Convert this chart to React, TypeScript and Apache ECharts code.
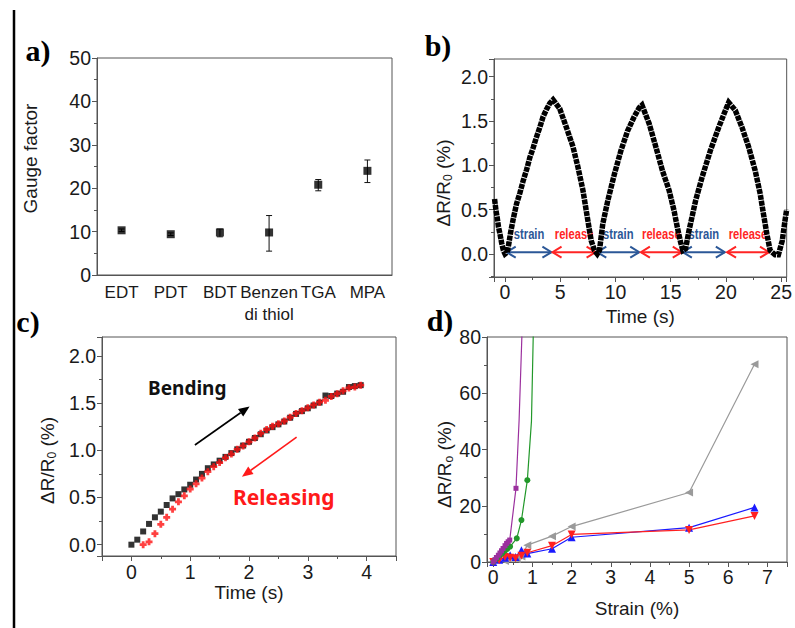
import React, { useEffect, useRef } from 'react';
import * as echarts from 'echarts';

// ---------- panel a ----------
const gfCategories = ['EDT', 'PDT', 'BDT', 'Benzen\ndi thiol', 'TGA', 'MPA'];
const gfValues = [10.3, 9.4, 9.8, 9.8, 20.8, 24.0];
const gfErrLow = [10.0, 9.1, 8.8, 5.5, 19.4, 21.3];
const gfErrHigh = [10.6, 9.7, 10.6, 13.7, 22.0, 26.5];

// ---------- panel b ----------
const cycleTime = [
  -0.95, -0.82, -0.7, -0.6, -0.45, -0.3, -0.15, 0.0, 0.2, 0.35, 0.5, 0.75, 1.05, 1.35, 1.65, 1.95, 2.25, 2.55,
  2.85, 3.15, 3.45, 3.75, 4.05, 4.35, 4.95, 5.55, 6.15, 6.6, 7.05, 7.35, 7.6, 7.8, 8.1, 8.35, 8.55, 8.85,
  9.3, 9.9, 10.5, 11.1, 11.7, 12.15, 12.4, 13.05, 13.65, 14.25, 14.85, 15.3, 15.6, 15.9, 16.1, 16.35,
  16.65, 17.25, 17.85, 18.6, 19.35, 19.95, 20.25, 20.85, 21.45, 22.05, 22.65, 23.1, 23.4, 23.7, 24.0,
  24.45, 24.75, 25.1, 25.35, 25.5,
];
const cycleValue = [
  0.62, 0.49, 0.4, 0.31, 0.22, 0.12, 0.04, 0.0, 0.02, 0.12, 0.24, 0.4, 0.57, 0.69, 0.83, 0.95, 1.09, 1.2,
  1.32, 1.43, 1.55, 1.63, 1.7, 1.74, 1.64, 1.43, 1.21, 0.98, 0.72, 0.49, 0.3, 0.15, 0.04, 0.0, 0.04, 0.34,
  0.6, 0.9, 1.17, 1.39, 1.55, 1.65, 1.68, 1.47, 1.21, 0.94, 0.72, 0.49, 0.3, 0.13, 0.04, 0.06,
  0.26, 0.6, 0.87, 1.17, 1.43, 1.62, 1.71, 1.62, 1.43, 1.21, 0.94, 0.68, 0.45, 0.23, 0.04,
  -0.01, -0.01, 0.15, 0.38, 0.5,
];
const phaseStart = [0.15, 4.3, 8.35, 12.3, 16.1, 20.1];
const phaseEnd = [4.2, 8.2, 12.15, 16.0, 19.9, 23.9];
const phaseLabels = ['strain', 'release', 'strain', 'release', 'strain', 'release'];
const phaseArrowLevel = 0.02;
const phaseLabelLevel = 0.22;

// ---------- panel c ----------
const bendTime = [
  0, 0.1, 0.2, 0.3, 0.4, 0.5, 0.6, 0.7, 0.8, 0.9, 1.0, 1.1, 1.2, 1.3, 1.4, 1.5, 1.6, 1.7, 1.8, 1.9,
  2.0, 2.1, 2.2, 2.3, 2.4, 2.5, 2.6, 2.7, 2.8, 2.9, 3.0, 3.1, 3.2, 3.3, 3.4, 3.5, 3.6, 3.7, 3.8, 3.9,
];
const bendValue = [
  0, 0.053, 0.14, 0.22, 0.29, 0.35, 0.42, 0.49, 0.535, 0.585, 0.635, 0.69, 0.75, 0.81, 0.85, 0.89, 0.93, 0.97, 1.01, 1.05,
  1.09, 1.13, 1.17, 1.21, 1.245, 1.275, 1.305, 1.345, 1.385, 1.415, 1.445, 1.475, 1.505, 1.58, 1.575, 1.6, 1.62, 1.67, 1.68, 1.69,
];
const releaseTime = [
  0.2, 0.3, 0.4, 0.5, 0.6, 0.7, 0.8, 0.9, 1.0, 1.1, 1.2, 1.3, 1.4, 1.5, 1.6, 1.7, 1.8, 1.9,
  2.0, 2.1, 2.2, 2.3, 2.4, 2.5, 2.6, 2.7, 2.8, 2.9, 3.0, 3.1, 3.2, 3.3, 3.4, 3.5, 3.6, 3.7, 3.8, 3.9,
];
const releaseValue = [
  0, 0.03, 0.117, 0.216, 0.29, 0.376, 0.454, 0.518, 0.589, 0.645, 0.706, 0.773, 0.826, 0.87, 0.92, 0.96, 1.01, 1.046,
  1.09, 1.13, 1.18, 1.22, 1.255, 1.28, 1.31, 1.35, 1.39, 1.42, 1.45, 1.48, 1.51, 1.53, 1.57, 1.6, 1.63, 1.66, 1.67, 1.69,
];
const noteArrowX1 = [1.08, 2.81];
const noteArrowY1 = [1.056, 1.14];
const noteArrowX2 = [2.01, 1.88];
const noteArrowY2 = [1.465, 0.72];
const noteTexts = ['Bending', 'Releasing'];
const noteX = [0.95, 2.59];
const noteY = [1.66, 0.5];

// ---------- panel d ----------
const purpleStrain = [0, 0.04, 0.08, 0.13, 0.17, 0.21, 0.25, 0.3, 0.34, 0.38, 0.42, 0.58];
const purpleResp = [0, 0.8, 1.6, 2.4, 3.2, 4.0, 4.8, 5.8, 6.6, 7.2, 7.8, 26.2];
const purpleTailStrain = [0.66, 0.73, 0.76];
const purpleTailResp = [50.5, 80, 95];
const greenStrain = [0, 0.05, 0.1, 0.17, 0.23, 0.3, 0.36, 0.43, 0.6, 0.72, 0.87];
const greenResp = [0, 0.8, 1.4, 2.4, 3.1, 4.0, 4.7, 5.5, 8.4, 14.9, 29.1];
const greenTailStrain = [0.975, 1.02, 1.05];
const greenTailResp = [50, 80, 100];
const grayStrain = [0.3, 0.6, 0.72, 0.87, 1.5, 2.0, 5.0, 6.67];
const grayResp = [0.4, 1.0, 2.0, 6.0, 9.2, 12.6, 24.7, 70.3];
const blueStrain = [0, 0.15, 0.3, 0.43, 0.57, 0.72, 0.87, 1.5, 2.0, 5.0, 6.67];
const blueResp = [0, 0.8, 1.5, 2.4, 1.8, 4.2, 3.0, 4.7, 8.8, 12.2, 19.4];
const redStrain = [0, 0.15, 0.3, 0.43, 0.57, 0.72, 0.87, 1.5, 2.0, 5.0, 6.67];
const redResp = [0, 0.6, 1.8, 1.5, 1.3, 2.2, 3.3, 5.8, 9.8, 11.4, 16.4];

const FONT = '"Liberation Sans", Arial, sans-serif';
const AX = '#555';
const TXT = '#1a1a1a';
const BLUE = '#2b5797';
const RED = '#ff2424';
const TICK_FS = 19.5;

const zip = (a: number[], b: number[]) => a.map((v, i) => [v, b[i]]);
const oneDecimal = (v: number) => v.toFixed(1);

function valueAxis(gridIndex: number, min: number, max: number, extra: any = {}) {
  return {
    type: 'value',
    gridIndex,
    min,
    max,
    splitLine: { show: false },
    axisLine: { show: true, onZero: false, lineStyle: { color: AX, width: 1 } },
    axisTick: { show: true, inside: false, length: 5, lineStyle: { color: AX } },
    minorTick: { show: true, splitNumber: 2, length: 3, lineStyle: { color: AX } },
    axisLabel: { fontFamily: FONT, fontSize: TICK_FS, color: TXT, margin: 6 },
    nameLocation: 'middle',
    nameTextStyle: { fontFamily: FONT, fontSize: 19, color: TXT },
    ...extra,
  };
}

const ratioName = (sub: string) => ({
  name: `ΔR/R{sub|${sub}} (%)`,
});
const ratioNameStyle = (pad: number[]) => ({
  fontFamily: FONT,
  fontSize: 19,
  color: TXT,
  lineHeight: 22,
  padding: pad,
  rich: { sub: { fontFamily: FONT, fontSize: 12, lineHeight: 10, verticalAlign: 'bottom', color: TXT } },
});

export default function App() {
  const ref = useRef<HTMLDivElement>(null);
  useEffect(() => {
    if (!ref.current) return;
    const chart = echarts.init(ref.current, undefined, { renderer: 'svg' });
    const option: any = {
      animation: false,
      backgroundColor: '#fff',
      grid: [
        { left: 97, top: 58, width: 295, height: 217, show: true, borderColor: AX, borderWidth: 1, backgroundColor: 'transparent' },
        { left: 494, top: 59, width: 294, height: 218, show: true, borderColor: AX, borderWidth: 1, backgroundColor: 'transparent' },
        { left: 102, top: 337, width: 294, height: 219, show: true, borderColor: AX, borderWidth: 1, backgroundColor: 'transparent' },
        { left: 487, top: 337, width: 300, height: 225, show: true, borderColor: AX, borderWidth: 1, backgroundColor: 'transparent' },
      ],
      xAxis: [
        {
          type: 'category',
          gridIndex: 0,
          data: gfCategories,
          boundaryGap: true,
          axisLine: { lineStyle: { color: AX } },
          axisTick: { alignWithLabel: true, length: 5, lineStyle: { color: AX } },
          axisLabel: { fontFamily: FONT, fontSize: 17, color: TXT, interval: 0, margin: 6, lineHeight: 22 },
          splitLine: { show: false },
        },
        valueAxis(1, -1, 25.5, {
          splitNumber: 5,
          name: 'Time (s)',
          nameGap: 30,
          axisLabel: { fontFamily: FONT, fontSize: TICK_FS, color: TXT, margin: 5, showMinLabel: false, showMaxLabel: false },
        }),
        valueAxis(2, -0.5, 4.5, {
          splitNumber: 5,
          name: 'Time (s)',
          nameGap: 27,
          axisLabel: { fontFamily: FONT, fontSize: TICK_FS, color: TXT, margin: 6, showMinLabel: false, showMaxLabel: false },
        }),
        valueAxis(3, -0.16, 7.5, {
          splitNumber: 7,
          name: 'Strain (%)',
          nameGap: 37,
          axisLabel: { fontFamily: FONT, fontSize: TICK_FS, color: TXT, margin: 5, showMinLabel: false, showMaxLabel: false },
        }),
      ],
      yAxis: [
        valueAxis(0, 0, 50, {
          interval: 10,
          name: 'Gauge factor',
          nameGap: 57,
          nameTextStyle: { fontFamily: FONT, fontSize: 19, color: TXT, padding: [0, 0, 0, 16] },
        }),
        valueAxis(1, -0.26, 2.2, {
          splitNumber: 5,
          ...ratioName('0'),
          nameGap: 40,
          nameTextStyle: ratioNameStyle([0, 30, 0, 0]),
          axisLabel: { fontFamily: FONT, fontSize: TICK_FS, color: TXT, margin: 6, showMinLabel: false, showMaxLabel: false, formatter: oneDecimal },
        }),
        valueAxis(2, -0.12, 2.2, {
          splitNumber: 5,
          ...ratioName('0'),
          nameGap: 44,
          nameTextStyle: ratioNameStyle([0, 28, 0, 0]),
          axisLabel: { fontFamily: FONT, fontSize: TICK_FS, color: TXT, margin: 6, showMinLabel: false, showMaxLabel: false, formatter: oneDecimal },
        }),
        valueAxis(3, 0, 80, {
          interval: 20,
          ...ratioName('o'),
          nameGap: 30,
          nameTextStyle: ratioNameStyle([0, 30, 0, 0]),
        }),
      ],
      series: [
        // panel a error bars
        {
          type: 'custom',
          xAxisIndex: 0,
          yAxisIndex: 0,
          data: gfCategories.map((_, i) => [i, gfErrLow[i], gfErrHigh[i]]),
          renderItem: (params: any, api: any) => {
            const lo = api.coord([api.value(0), api.value(1)]);
            const hi = api.coord([api.value(0), api.value(2)]);
            const w = 3;
            const st = { stroke: '#111', lineWidth: 1 };
            return {
              type: 'group',
              children: [
                { type: 'line', shape: { x1: lo[0], y1: lo[1], x2: hi[0], y2: hi[1] }, style: st },
                { type: 'line', shape: { x1: lo[0] - w, y1: lo[1], x2: lo[0] + w, y2: lo[1] }, style: st },
                { type: 'line', shape: { x1: hi[0] - w, y1: hi[1], x2: hi[0] + w, y2: hi[1] }, style: st },
              ],
            };
          },
        },
        {
          type: 'scatter',
          xAxisIndex: 0,
          yAxisIndex: 0,
          symbol: 'rect',
          symbolSize: 8,
          itemStyle: { color: '#000' },
          data: gfValues.map((v, i) => [i, v]),
        },
        // panel b
        {
          type: 'line',
          xAxisIndex: 1,
          yAxisIndex: 1,
          showSymbol: false,
          symbol: 'none',
          data: zip(cycleTime, cycleValue),
          lineStyle: { color: '#000', width: 5.5, type: [5, 0.9], cap: 'butt', join: 'miter' },
        },
        {
          type: 'custom',
          xAxisIndex: 1,
          yAxisIndex: 1,
          data: phaseStart.map((s, i) => [s, phaseEnd[i], phaseArrowLevel, phaseLabelLevel]),
          renderItem: (params: any, api: any) => {
            const i = params.dataIndex;
            const p1 = api.coord([api.value(0), api.value(2)]);
            const p2 = api.coord([api.value(1), api.value(2)]);
            const pt = api.coord([(api.value(0) + api.value(1)) / 2, api.value(3)]);
            const col = i % 2 === 0 ? BLUE : RED;
            const st = { stroke: col, lineWidth: 2, fill: 'none' };
            const hx = 9, hy = 5.5;
            return {
              type: 'group',
              children: [
                { type: 'line', shape: { x1: p1[0], y1: p1[1], x2: p2[0], y2: p2[1] }, style: st },
                { type: 'polyline', shape: { points: [[p1[0] + hx, p1[1] - hy], [p1[0], p1[1]], [p1[0] + hx, p1[1] + hy]] }, style: st },
                { type: 'polyline', shape: { points: [[p2[0] - hx, p2[1] - hy], [p2[0], p2[1]], [p2[0] - hx, p2[1] + hy]] }, style: st },
                {
                  type: 'text',
                  x: pt[0],
                  y: pt[1],
                  scaleX: 0.8,
                  style: {
                    text: phaseLabels[i],
                    fill: col,
                    fontSize: 14,
                    fontWeight: 'bold',
                    fontFamily: FONT,
                    align: 'center',
                    verticalAlign: 'middle',
                  },
                },
              ],
            };
          },
        },
        // panel c
        {
          type: 'scatter',
          xAxisIndex: 2,
          yAxisIndex: 2,
          symbol: 'rect',
          symbolSize: 6,
          itemStyle: { color: '#000' },
          data: zip(bendTime, bendValue),
        },
        {
          type: 'scatter',
          xAxisIndex: 2,
          yAxisIndex: 2,
          symbol: 'path://M3,0L7,0L7,3L10,3L10,7L7,7L7,10L3,10L3,7L0,7L0,3L3,3Z',
          symbolSize: 7,
          itemStyle: { color: '#ff1010' },
          data: zip(releaseTime, releaseValue),
        },
        {
          type: 'custom',
          xAxisIndex: 2,
          yAxisIndex: 2,
          data: noteArrowX1.map((x, i) => [x, noteArrowY1[i], noteArrowX2[i], noteArrowY2[i]]),
          renderItem: (params: any, api: any) => {
            const i = params.dataIndex;
            const p1 = api.coord([api.value(0), api.value(1)]);
            const p2 = api.coord([api.value(2), api.value(3)]);
            const col = i === 0 ? '#000' : '#ff1a1a';
            const dx = p2[0] - p1[0], dy = p2[1] - p1[1];
            const L = Math.sqrt(dx * dx + dy * dy);
            const ux = dx / L, uy = dy / L;
            const nx = -uy, ny = ux;
            const hl = 11, hw = 4.5;
            const bx = p2[0] - ux * hl, by = p2[1] - uy * hl;
            return {
              type: 'group',
              children: [
                { type: 'line', shape: { x1: p1[0], y1: p1[1], x2: bx, y2: by }, style: { stroke: col, lineWidth: 1.6 } },
                {
                  type: 'polygon',
                  shape: { points: [[p2[0], p2[1]], [bx + nx * hw, by + ny * hw], [bx - nx * hw, by - ny * hw]] },
                  style: { fill: col },
                },
              ],
            };
          },
        },
        {
          type: 'custom',
          xAxisIndex: 2,
          yAxisIndex: 2,
          data: noteX.map((x, i) => [x, noteY[i]]),
          renderItem: (params: any, api: any) => {
            const i = params.dataIndex;
            const p = api.coord([api.value(0), api.value(1)]);
            return {
              type: 'text',
              x: p[0],
              y: p[1],
              style: {
                text: noteTexts[i],
                fill: i === 0 ? '#111' : '#ff1a1a',
                fontSize: i === 0 ? 19 : 21,
                fontWeight: 'bold',
                fontFamily: '"Noto Sans", "Open Sans", sans-serif',
                align: 'center',
                verticalAlign: 'middle',
              },
            };
          },
        },
        // panel d
        {
          type: 'line',
          xAxisIndex: 3,
          yAxisIndex: 3,
          symbol: 'triangle',
          symbolRotate: 90,
          symbolSize: 8,
          color: '#9a9a9a',
          lineStyle: { width: 1.2 },
          data: zip(grayStrain, grayResp),
        },
        {
          type: 'line',
          xAxisIndex: 3,
          yAxisIndex: 3,
          symbol: 'triangle',
          symbolSize: 8,
          color: '#1a1aff',
          lineStyle: { width: 1.2 },
          data: zip(blueStrain, blueResp),
        },
        {
          type: 'line',
          xAxisIndex: 3,
          yAxisIndex: 3,
          symbol: 'triangle',
          symbolRotate: 180,
          symbolSize: 8,
          color: '#ff2020',
          lineStyle: { width: 1.2 },
          data: zip(redStrain, redResp),
        },
        {
          type: 'line',
          xAxisIndex: 3,
          yAxisIndex: 3,
          symbol: 'circle',
          symbolSize: 6,
          color: '#22982a',
          lineStyle: { width: 1.2 },
          data: [
            ...zip(greenStrain, greenResp),
            ...zip(greenTailStrain, greenTailResp).map((v) => ({ value: v, symbol: 'none' })),
          ],
        },
        {
          type: 'line',
          xAxisIndex: 3,
          yAxisIndex: 3,
          symbol: 'rect',
          symbolSize: 5,
          color: '#9b309e',
          lineStyle: { width: 1.2 },
          data: [
            ...zip(purpleStrain, purpleResp),
            ...zip(purpleTailStrain, purpleTailResp).map((v) => ({ value: v, symbol: 'none' })),
          ],
        },
      ],
      graphic: [
        { type: 'line', shape: { x1: 14, y1: 10, x2: 14, y2: 628 }, style: { stroke: '#000', lineWidth: 2.5 } },
        { type: 'text', x: 38, y: 50, style: { text: 'a)', font: 'bold 30px "Liberation Serif", serif', fill: '#000', align: 'center', verticalAlign: 'middle' } },
        { type: 'text', x: 438, y: 45, style: { text: 'b)', font: 'bold 30px "Liberation Serif", serif', fill: '#000', align: 'center', verticalAlign: 'middle' } },
        { type: 'text', x: 28, y: 321, style: { text: 'c)', font: 'bold 30px "Liberation Serif", serif', fill: '#000', align: 'center', verticalAlign: 'middle' } },
        { type: 'text', x: 440, y: 320, style: { text: 'd)', font: 'bold 30px "Liberation Serif", serif', fill: '#000', align: 'center', verticalAlign: 'middle' } },
      ],
    };
    chart.setOption(option);
    return () => chart.dispose();
  }, []);
  return (
    <div
      ref={ref}
      style={{ position: 'fixed', left: 0, top: 0, width: 795, height: 628, background: '#fff' }}
    />
  );
}
